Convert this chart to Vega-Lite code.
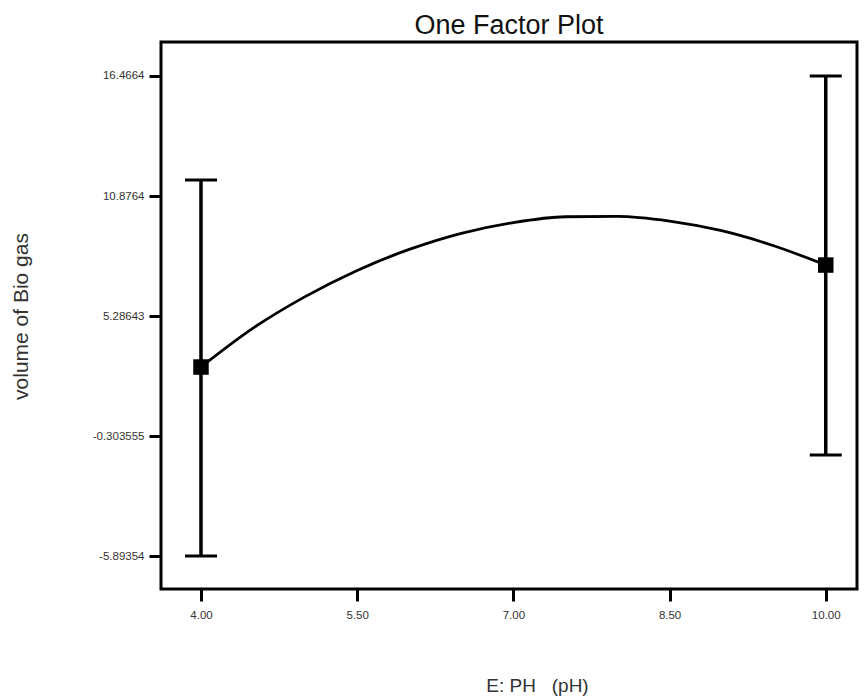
{
  "$schema": "https://vega.github.io/schema/vega-lite/v6.json",
  "width": 696,
  "height": 547,
  "autosize": "none",
  "padding": {"left": 161, "top": 42, "right": 11, "bottom": 111},
  "background": "white",
  "title": {
    "text": "One Factor Plot",
    "font": "Liberation Sans",
    "fontSize": 27,
    "fontWeight": "normal",
    "color": "#111",
    "offset": 2,
    "anchor": "middle"
  },
  "config": {
    "view": {"stroke": "black", "strokeWidth": 3},
    "axis": {
      "domain": false,
      "grid": false,
      "ticks": true,
      "tickColor": "black",
      "tickWidth": 3,
      "tickSize": 12,
      "labelFont": "Liberation Sans",
      "labelFontSize": 11.5,
      "labelColor": "#333",
      "titleFont": "Liberation Sans",
      "titleFontWeight": "normal",
      "titleColor": "#333"
    }
  },
  "datasets": {
    "curve": [
      {"ph": 4.0, "vol": 2.91},
      {"ph": 4.5, "vol": 4.72},
      {"ph": 5.0, "vol": 6.19},
      {"ph": 5.5, "vol": 7.41},
      {"ph": 6.0, "vol": 8.39},
      {"ph": 6.5, "vol": 9.14},
      {"ph": 7.0, "vol": 9.64},
      {"ph": 7.5, "vol": 9.91},
      {"ph": 8.0, "vol": 9.93},
      {"ph": 8.5, "vol": 9.71},
      {"ph": 9.0, "vol": 9.26},
      {"ph": 9.5, "vol": 8.56},
      {"ph": 10.0, "vol": 7.66}
    ],
    "design": [
      {"ph": 4.0, "vol": 2.91, "lower": -5.89, "upper": 11.62},
      {"ph": 10.0, "vol": 7.66, "lower": -1.19, "upper": 16.47}
    ]
  },
  "layer": [
    {
      "data": {"name": "curve"},
      "mark": {"type": "line", "color": "black", "strokeWidth": 2.8, "interpolate": "monotone"},
      "encoding": {
        "x": {
          "field": "ph", "type": "quantitative",
          "scale": {"domain": [3.616, 10.3], "nice": false, "zero": false},
          "axis": {
            "values": [4, 5.5, 7, 8.5, 10],
            "format": ".2f",
            "labelPadding": 8,
            "title": "E: PH\u00a0\u00a0\u00a0(pH)",
            "titleFontSize": 19,
            "titlePadding": 56,
            "titleX": 376
          }
        },
        "y": {
          "field": "vol", "type": "quantitative",
          "scale": {"domain": [-7.43, 18.05], "nice": false, "zero": false},
          "axis": {
            "values": [16.4664, 10.8764, 5.28643, -0.303555, -5.89354],
            "labelExpr": "replace(format(datum.value, '.6~g'), '\u2212', '-')",
            "labelPadding": 5,
            "title": "volume of Bio gas",
            "titleFontSize": 21,
            "titleX": -140,
            "titleY": 274,
            "titleBaseline": "middle",
            "titleAlign": "center"
          }
        }
      }
    },
    {
      "data": {"name": "design"},
      "mark": {"type": "rule", "color": "black", "strokeWidth": 3.5},
      "encoding": {
        "x": {"field": "ph", "type": "quantitative"},
        "y": {"field": "lower", "type": "quantitative"},
        "y2": {"field": "upper"}
      }
    },
    {
      "data": {"name": "design"},
      "mark": {"type": "tick", "color": "black", "opacity": 1, "orient": "horizontal", "size": 32, "thickness": 3},
      "encoding": {
        "x": {"field": "ph", "type": "quantitative"},
        "y": {"field": "upper", "type": "quantitative"}
      }
    },
    {
      "data": {"name": "design"},
      "mark": {"type": "tick", "color": "black", "opacity": 1, "orient": "horizontal", "size": 32, "thickness": 3},
      "encoding": {
        "x": {"field": "ph", "type": "quantitative"},
        "y": {"field": "lower", "type": "quantitative"}
      }
    },
    {
      "data": {"name": "design"},
      "mark": {"type": "point", "shape": "square", "filled": true, "color": "black", "opacity": 1, "size": 240},
      "encoding": {
        "x": {"field": "ph", "type": "quantitative"},
        "y": {"field": "vol", "type": "quantitative"}
      }
    }
  ]
}
